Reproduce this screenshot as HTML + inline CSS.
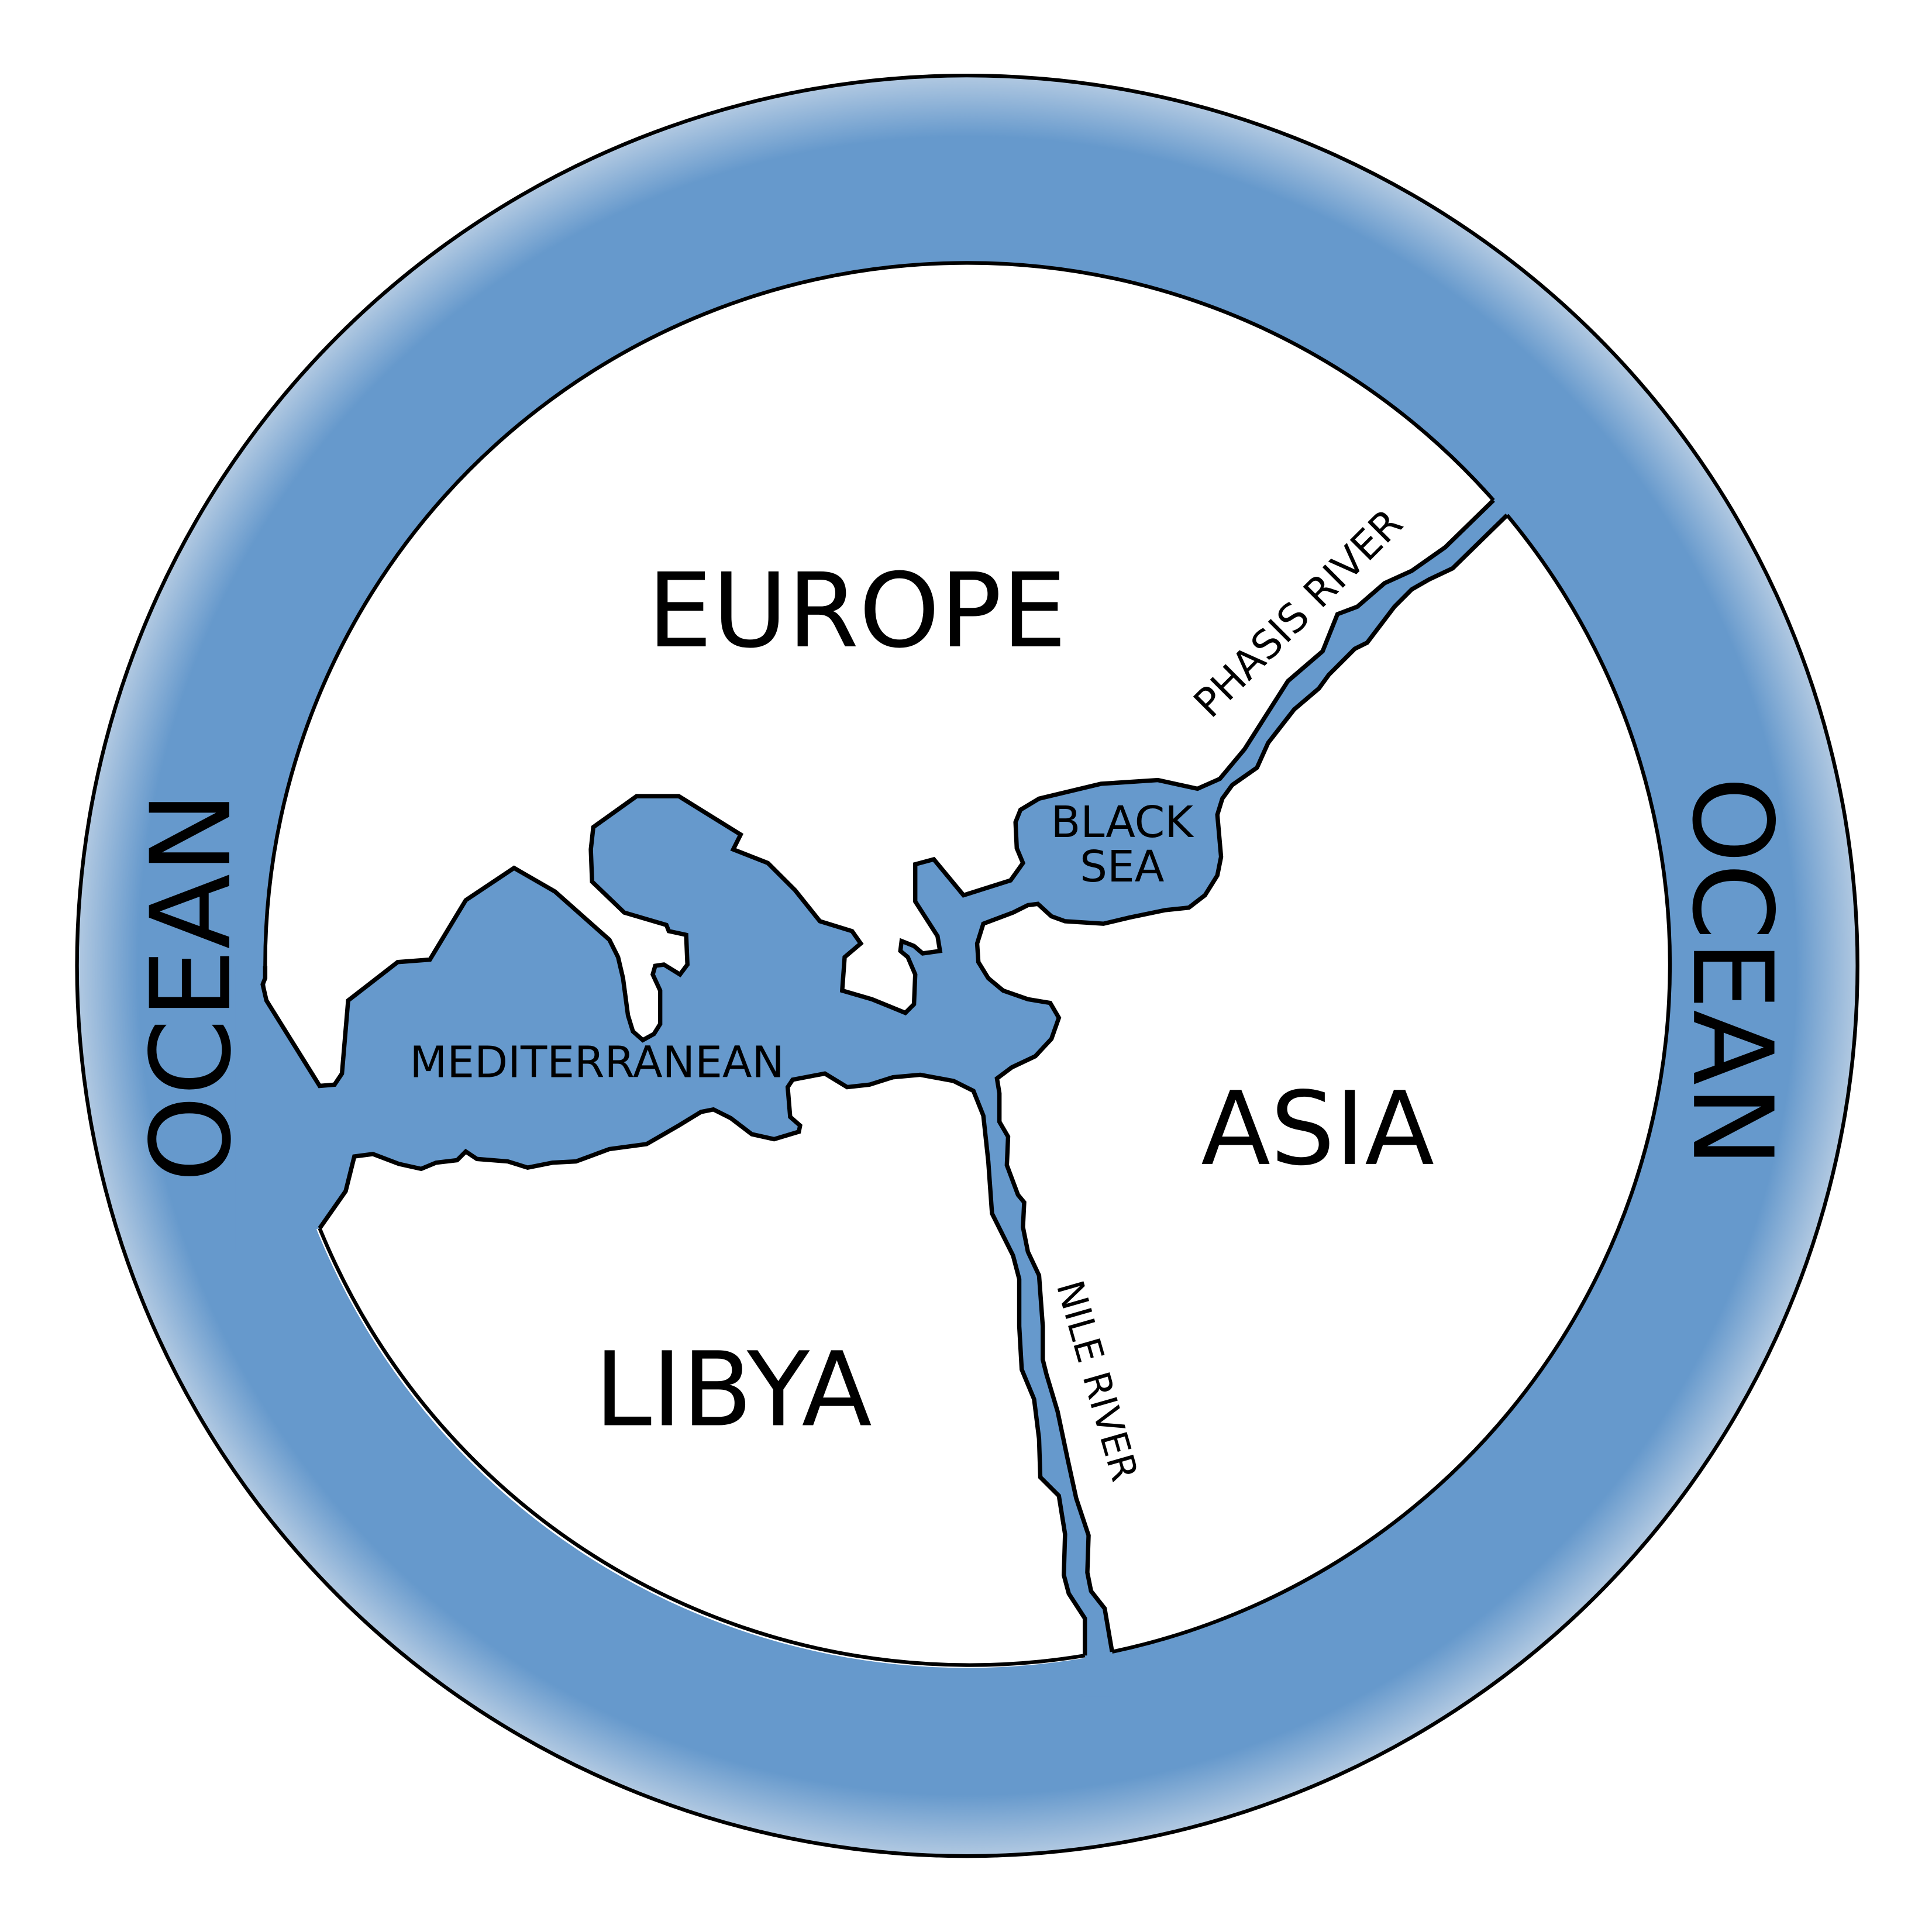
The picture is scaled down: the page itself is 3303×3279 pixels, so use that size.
<!DOCTYPE html>
<html><head><meta charset="utf-8"><style>html,body{margin:0;padding:0;background:#fff}svg{display:block}</style></head>
<body>
<svg width="3303" height="3279" viewBox="0 0 1560 1549" xmlns="http://www.w3.org/2000/svg">
<defs>
<radialGradient id="g" cx="781" cy="780" r="720" gradientUnits="userSpaceOnUse">
<stop offset="0" stop-color="#6699cc"/>
<stop offset="0.93" stop-color="#6699cc"/>
<stop offset="1" stop-color="#b3cae2"/>
</radialGradient>
</defs>
<circle cx="781" cy="780" r="719" fill="url(#g)" stroke="#000" stroke-width="3"/>
<circle cx="781" cy="780" r="567" fill="#fff"/>
<g stroke="#000" stroke-width="3.5" stroke-linejoin="miter" fill="none">
<path fill="#6699cc" stroke="none" d="M200,780 L214,790 212,795 215,808 258,877 270,876 276,867 281,808 321,777 347,775 376,727 415,701 448,720 492,759 499,773 503,790 507,820 511,833 519,840 528,835 533,827 533,800 527,787 529,780 536,779 549,787 555,779 554,755 540,752 538,747 504,737 478,712 477,686 479,668 514,643 548,643 598,674 592,686 620,697 642,719 662,744 688,752 695,762 682,773 680,800 704,807 731,818 738,811 739,787 733,773 727,768 728,760 738,764 745,770 759,768 757,756 739,728 739,698 754,694 778,723 816,711 826,697 821,685 820,664 824,654 839,645 889,633 935,630 967,637 985,629 1005,605 1040,550 1068,526 1080,496 1096,490 1118,471 1140,461 1167,442 1205,405 1225,385 1240,405 1218,417 1173,459 1154,468 1140,476 1126,490 1104,519 1094,524 1073,545 1065,556 1045,573 1024,600 1015,620 995,634 987,645 983,658 986,692 983,707 973,723 960,733 941,735 912,741 891,746 860,744 849,740 838,730 830,731 818,737 794,746 789,762 790,777 798,790 810,800 830,807 848,810 855,822 849,839 836,853 817,862 805,871 807,883 807,906 814,918 813,941 822,965 827,971 826,991 830,1011 839,1030 842,1071 842,1098 845,1110 854,1140 862,1178 869,1210 879,1240 878,1270 881,1285 892,1299 898,1334 900,1370 874,1370 876,1337 876,1307 863,1287 859,1272 860,1239 855,1208 840,1193 839,1162 835,1130 825,1106 823,1071 823,1033 818,1014 801,980 798,938 794,901 786,881 770,873 743,868 721,870 702,876 684,878 666,867 640,872 636,878 638,902 646,909 645,914 625,920 607,916 590,903 576,896 566,898 548,909 522,924 492,928 465,938 446,939 426,943 410,938 385,936 376,930 369,937 352,939 340,944 322,940 301,932 286,934 279,962 258,992 190,1010 190,780 Z"/>
<polyline points="214,780 214,790 212,795 215,808 258,877 270,876 276,867 281,808 321,777 347,775 376,727 415,701 448,720 492,759 499,773 503,790 507,820 511,833 519,840 528,835 533,827 533,800 527,787 529,780 536,779 549,787 555,779 554,755 540,752 538,747 504,737 478,712 477,686 479,668 514,643 548,643 598,674 592,686 620,697 642,719 662,744 688,752 695,762 682,773 680,800 704,807 731,818 738,811 739,787 733,773 727,768 728,760 738,764 745,770 759,768 757,756 739,728 739,698 754,694 778,723 816,711 826,697 821,685 820,664 824,654 839,645 889,633 935,630 967,637 985,629 1005,605 1040,550 1068,526 1080,496 1096,490 1118,471 1140,461 1167,442 1206,404"/>
<polyline points="1217,416 1173,459 1154,468 1140,476 1126,490 1104,519 1094,524 1073,545 1065,556 1045,573 1024,600 1015,620 995,634 987,645 983,658 986,692 983,707 973,723 960,733 941,735 912,741 891,746 860,744 849,740 838,730 830,731 818,737 794,746 789,762 790,777 798,790 810,800 830,807 848,810 855,822 849,839 836,853 817,862 805,871 807,883 807,906 814,918 813,941 822,965 827,971 826,991 830,1011 839,1030 842,1071 842,1098 845,1110 854,1140 862,1178 869,1210 879,1240 878,1270 881,1285 892,1299 898,1334"/>
<polyline points="876,1337 876,1307 863,1287 859,1272 860,1239 855,1208 840,1193 839,1162 835,1130 825,1106 823,1071 823,1033 818,1014 801,980 798,938 794,901 786,881 770,873 743,868 721,870 702,876 684,878 666,867 640,872 636,878 638,902 646,909 645,914 625,920 607,916 590,903 576,896 566,898 548,909 522,924 492,928 465,938 446,939 426,943 410,938 385,936 376,930 369,937 352,939 340,944 322,940 301,932 286,934 279,962 258,992"/>
<path stroke-width="3" d="M214,780 A567,567 0 0 1 1206,404"/>
<path stroke-width="3" d="M1217,416 A567,567 0 0 1 898,1334"/>
<path stroke-width="3" d="M876,1337 A567,567 0 0 1 258,992"/>
</g>
<g font-family="'DejaVu Sans','Liberation Sans',sans-serif" fill="#000" text-anchor="middle">
<text x="692" y="522" font-size="83">EUROPE</text>
<text x="1064" y="940" font-size="82">ASIA</text>
<text x="592" y="1151" font-size="83">LIBYA</text>
<text x="482" y="870" font-size="35">MEDITERRANEAN</text>
<text x="906" y="676" font-size="35">BLACK</text>
<text x="906" y="712" font-size="35">SEA</text>
<text transform="translate(1056,503) rotate(-45)" font-size="32">PHASIS RIVER</text>
<text transform="translate(876,1118) rotate(74)" font-size="30">NILE RIVER</text>
<text transform="translate(185,797) rotate(-90)" font-size="89">OCEAN</text>
<text transform="translate(1368,785) rotate(90)" font-size="89">OCEAN</text>
</g>
</svg>
</body></html>
